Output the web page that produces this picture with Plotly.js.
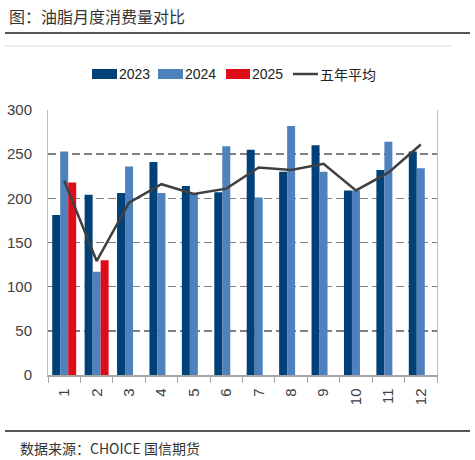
<!DOCTYPE html>
<html>
<head>
<meta charset="utf-8">
<script src="https://cdn.plot.ly/plotly-3.0.1.min.js"></script>
<style>html,body{margin:0;padding:0;background:#fff;}#chart{width:475px;height:460px;}</style>
</head>
<body>
<div id="chart"></div>
<script>
const months = ['1','2','3','4','5','6','7','8','9','10','11','12'];
const months2025 = ['1','2'];
const v2023 = [181, 204, 206, 241, 214, 207, 255, 230, 260, 209, 232, 253];
const v2024 = [253, 117, 236, 206, 205, 259, 201, 282, 230, 209, 264, 234];
const v2025 = [218, 130];
const avg5 = [220, 129, 195, 216, 205, 211, 235, 232, 239, 209, 229, 261];
const seriesNames = ['2023', '2024', '2025', '五年平均'];
const yTicks = [0, 50, 100, 150, 200, 250, 300];

const C2023 = '#004177', C2024 = '#4f81bd', C2025 = '#dc0d18', CAVG = '#404040';
const numFont = '"Liberation Sans Narrow", "Arial Narrow", "Liberation Sans", Arial, sans-serif';
const cjkFont = '"Noto Sans CJK SC", sans-serif';

const traces = [
  {type:'bar', x: months, y: v2023, name: seriesNames[0], marker:{color:C2023}},
  {type:'bar', x: months, y: v2024, name: seriesNames[1], marker:{color:C2024}},
  {type:'bar', x: months2025, y: v2025, name: seriesNames[2], marker:{color:C2025}},
  {type:'scatter', mode:'lines', x: months, y: avg5, name: seriesNames[3], line:{color:CAVG, width:2.5}}
];

// plot area: x 48..437, y 110..375 (px)
const L=48, R=437, T=110, B=375;
const px = v => (v - L) / (R - L);
const py = v => (B - v) / (B - T);

const legendItems = [
  {sw:[92,117], tx:117, color:C2023, kind:'rect', label:seriesNames[0]},
  {sw:[158,183], tx:183, color:C2024, kind:'rect', label:seriesNames[1]},
  {sw:[226,250], tx:250, color:C2025, kind:'rect', label:seriesNames[2]},
  {sw:[293,318], tx:318, color:CAVG, kind:'line', label:seriesNames[3]}
];

const shapes = [
  {type:'line', xref:'paper', yref:'paper', x0:px(5), x1:px(470), y0:py(33), y1:py(33), line:{color:'#555555', width:2}},
  {type:'line', xref:'paper', yref:'paper', x0:px(5), x1:px(451), y0:py(46), y1:py(46), line:{color:'#dddddd', width:1}},
  {type:'line', xref:'paper', yref:'paper', x0:px(5), x1:px(470), y0:py(431), y1:py(431), line:{color:'#555555', width:2}}
];
const annotations = [
  {xref:'paper', yref:'paper', x:px(7), y:py(16), xanchor:'left', yanchor:'middle', showarrow:false,
   text:'图：油脂月度消费量对比', font:{family:cjkFont, size:16, color:'#333333'}},
  {xref:'paper', yref:'paper', x:px(18), y:py(448), xanchor:'left', yanchor:'middle', showarrow:false,
   text:'数据来源：CHOICE 国信期货', font:{family:cjkFont, size:14, color:'#333333'}}
];
legendItems.forEach(it => {
  if (it.kind === 'rect') {
    shapes.push({type:'rect', xref:'paper', yref:'paper', x0:px(it.sw[0]), x1:px(it.sw[1]), y0:py(79), y1:py(69),
      fillcolor:it.color, line:{width:0}});
  } else {
    shapes.push({type:'line', xref:'paper', yref:'paper', x0:px(it.sw[0]), x1:px(it.sw[1]), y0:py(74), y1:py(74),
      line:{color:it.color, width:2.5}});
  }
  annotations.push({xref:'paper', yref:'paper', x:px(it.tx), y:py(74), xanchor:'left', yanchor:'middle', showarrow:false,
    text:it.label, font:{family: it.kind==='line' ? cjkFont : numFont, size:14, color:'#222222'}});
});

const layout = {
  width:475, height:460,
  margin:{l:L, r:475-R, t:T, b:460-B, pad:0},
  paper_bgcolor:'#ffffff', plot_bgcolor:'#ffffff',
  showlegend:false,
  barmode:'group', bargap:0.26, bargroupgap:0,
  xaxis:{type:'category', categoryorder:'array', categoryarray:months,
    showline:true, linecolor:'#a6a6a6', linewidth:1.5,
    ticks:'outside', tickson:'boundaries', ticklen:6, tickcolor:'#a6a6a6', tickwidth:1,
    tickangle:-90, ticklabelstandoff:6,
    tickfont:{family:numFont, size:15, color:'#404040'}, showgrid:false, fixedrange:true},
  yaxis:{range:[0,300], tickvals:yTicks, ticktext:yTicks.map(String),
    showline:true, mirror:true, linecolor:'#bfbfbf', linewidth:1,
    showgrid:true, gridcolor:'#808080', gridwidth:1.5, griddash:'8px,4px',
    zeroline:false, ticks:'', ticklabelstandoff:12,
    tickfont:{family:numFont, size:15, color:'#404040'}, fixedrange:true},
  shapes:shapes,
  annotations:annotations
};

Plotly.newPlot('chart', traces, layout, {displayModeBar:false, staticPlot:true});
</script>
</body>
</html>
